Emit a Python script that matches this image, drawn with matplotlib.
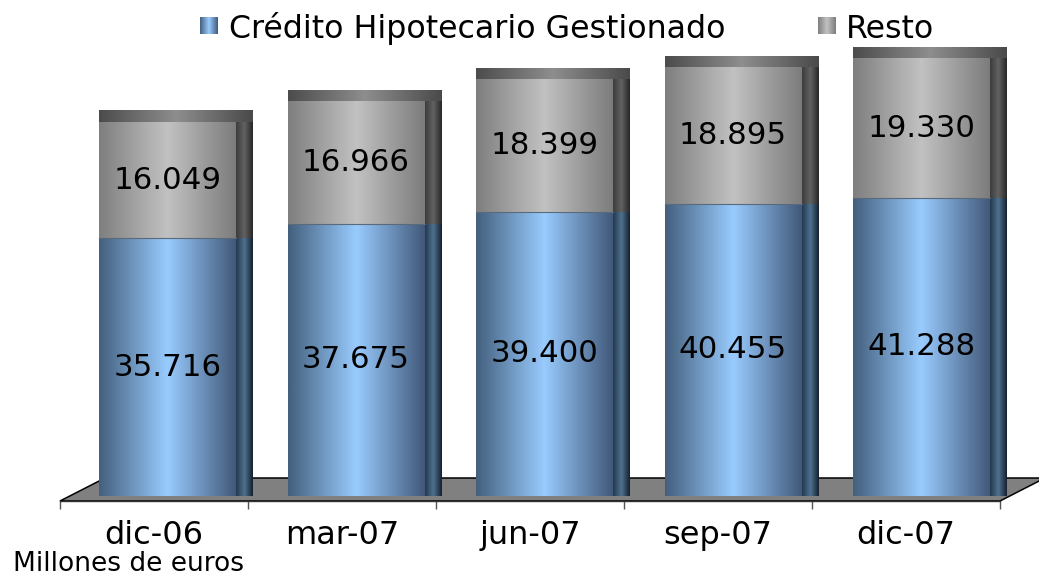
"""Stacked 3D-look bars: credito hipotecario gestionado vs resto."""
import numpy as np

import matplotlib
matplotlib.use("Agg")
import matplotlib.pyplot as plt
from matplotlib.colors import LinearSegmentedColormap
from matplotlib.patches import Polygon

categories = ["dic-06", "mar-07", "jun-07", "sep-07", "dic-07"]
hipotecario = [35716, 37675, 39400, 40455, 41288]
resto = [16049, 16966, 18399, 18895, 19330]
labels_hipotecario = ["35.716", "37.675", "39.400", "40.455", "41.288"]
labels_resto = ["16.049", "16.966", "18.399", "18.895", "19.330"]

W, H = 1039, 576
PX_PER_CAT = 188.0
PX_PER_VAL = 0.00722
BASE_PX = 496  # y pixel of the bar feet
BAR_STEP = 188.5 / PX_PER_CAT  # bars drift slightly against the ticks


def cmap3(name, edge_l, mid, edge_r):
    return LinearSegmentedColormap.from_list(name, [edge_l, mid, edge_r])


BLUE_FRONT = cmap3("bf", "#44607e", "#99ccff", "#42597a")
BLUE_SIDE = cmap3("bs", "#22384e", "#4f7190", "#15202e")
GRAY_FRONT = cmap3("gf", "#7f7f7f", "#c2c2c2", "#7c7c7c")
GRAY_SIDE = cmap3("gs", "#3c3c3c", "#626262", "#262626")
GRAY_TOP = cmap3("gt", "#4c4c4c", "#8e8e8e", "#4a4a4a")

GRAD = np.linspace(0, 1, 128).reshape(1, -1)


def shade(ax, x0, x1, y0, y1, cmap, z=2):
    ax.imshow(GRAD, cmap=cmap, extent=(x0, x1, y0, y1), aspect="auto",
              interpolation="bilinear", zorder=z, clip_on=False)


fig = plt.figure(figsize=(W / 100, H / 100), dpi=100)
ax = fig.add_axes([60 / W, 1 - BASE_PX / H, 940 / W, BASE_PX / H])
ax.patch.set_alpha(0)

# bar geometry in axis units, from the category centre
left = -55 / PX_PER_CAT
front_w = 137 / PX_PER_CAT
side_w = 17 / PX_PER_CAT
top_h = 11 / PX_PER_VAL

for i, (a, b) in enumerate(zip(hipotecario, resto)):
    x0 = i * BAR_STEP + left
    x1 = x0 + front_w
    x2 = x1 + side_w
    total = a + b
    shade(ax, x0, x1, 0, a, BLUE_FRONT)
    shade(ax, x1, x2, 0, a, BLUE_SIDE)
    shade(ax, x0, x1, a, total, GRAY_FRONT)
    shade(ax, x1, x2, a, total, GRAY_SIDE)
    shade(ax, x0, x2, total, total + top_h, GRAY_TOP)
    ax.plot([x0, x1], [a, a], color="#5a6a7a", lw=0.8, zorder=3)
    xc = (x0 + x1) / 2
    ax.text(xc, a / 2, labels_hipotecario[i], ha="center", va="center",
            fontsize=22.2, color="black", zorder=4)
    ax.text(xc, a + b / 2, labels_resto[i], ha="center", va="center",
            fontsize=22.2, color="black", zorder=4)

ax.set_xlim(-0.5, len(categories) - 0.5)
ax.set_ylim(0, BASE_PX / PX_PER_VAL)

# floor of the 3D plot, drawn under the bars
fy = -5 / PX_PER_VAL
by = 18 / PX_PER_VAL
dx = 45 / PX_PER_CAT
floor = Polygon([(-0.5, fy), (4.5, fy), (4.5 + dx, by), (-0.5 + dx, by)], closed=True,
                facecolor="#808080", edgecolor="black", lw=1.1, zorder=1, clip_on=False)
ax.add_patch(floor)

for s in ["top", "left", "right"]:
    ax.spines[s].set_visible(False)
ax.spines["bottom"].set_position(("outward", 3.6))
ax.spines["bottom"].set_color("#333333")
ax.spines["bottom"].set_linewidth(1.0)
ax.set_yticks([])
ax.set_xticks(np.arange(-0.5, len(categories)))
ax.set_xticklabels([])
ax.tick_params(axis="x", which="major", length=6, width=1, color="#555555")
ax.set_xticks(np.arange(len(categories)), minor=True)
ax.set_xticklabels(categories, minor=True, fontsize=23)
ax.tick_params(axis="x", which="minor", length=0, pad=14)

# legend, gradient swatches and plain text
for px, cm in [(200, BLUE_FRONT), (818, GRAY_FRONT)]:
    sw = fig.add_axes([px / W, 1 - 34 / H, 18 / W, 17 / H])
    sw.imshow(GRAD, cmap=cm, aspect="auto", interpolation="bilinear")
    sw.axis("off")
fig.text(229 / W, 1 - 38 / H, "Crédito Hipotecario Gestionado", fontsize=22.8, va="baseline")
fig.text(846 / W, 1 - 38 / H, "Resto", fontsize=22.8, va="baseline")

fig.text(13 / W, 1 - 571 / H, "Millones de euros", fontsize=19, va="baseline")

fig.savefig("out.png", dpi=100)
